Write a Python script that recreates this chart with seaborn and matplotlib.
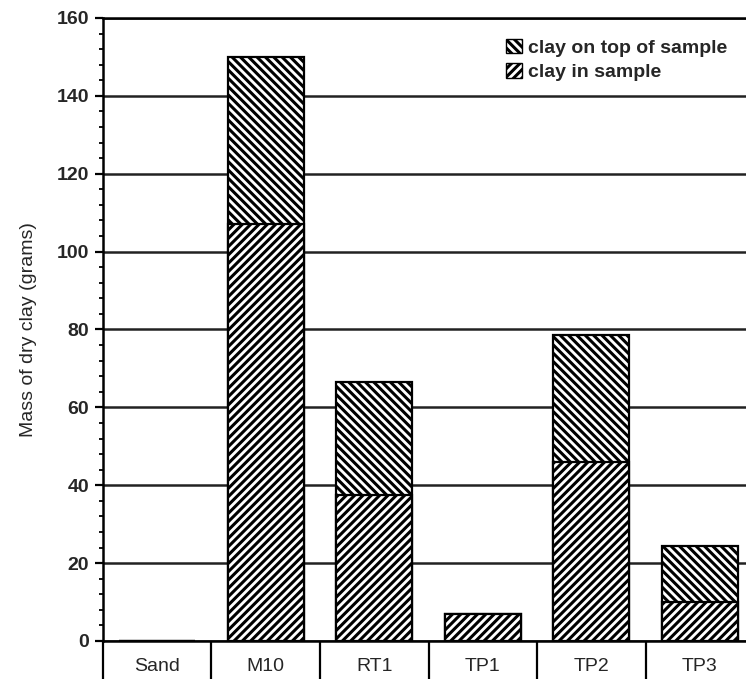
import numpy as np
import pandas as pd
import matplotlib
matplotlib.use("Agg")
import matplotlib.pyplot as plt
import seaborn as sns
from matplotlib.patches import Patch
from matplotlib.ticker import MultipleLocator, FixedLocator

# --- data ---
samples = ["Sand", "M10", "RT1", "TP1", "TP2", "TP3"]
clay_in_sample = [0, 107, 37.5, 7, 46, 10]
clay_on_top = [0, 43, 29, 0, 32.5, 14.5]

df = pd.DataFrame({"sample": samples,
                   "in_sample": clay_in_sample,
                   "on_top": clay_on_top})
df["total"] = df["in_sample"] + df["on_top"]

sns.set_theme(style="white")
plt.rcParams["font.family"] = ["Liberation Sans", "DejaVu Sans"]
plt.rcParams["hatch.linewidth"] = 2.2

fig = plt.figure(figsize=(7.46, 6.79), dpi=100)
ax = fig.add_axes([0.138, 0.056, 0.873, 0.9175])

# stacked bars: total first (top hatch), then the in-sample part over it
sns.barplot(data=df, x="sample", y="total", color="white", edgecolor="black",
            linewidth=1.6, hatch="\\\\\\\\", width=0.7, ax=ax)
sns.barplot(data=df, x="sample", y="in_sample", color="white", edgecolor="black",
            linewidth=1.6, hatch="////", width=0.7, ax=ax)
for p in ax.patches:
    p.set_facecolor("white")

ax.set_xlim(-0.5, len(samples) - 0.5)
ax.set_ylim(0, 160)
ax.yaxis.set_major_locator(MultipleLocator(20))
ax.yaxis.set_minor_locator(MultipleLocator(4))
ax.grid(axis="y", which="major", color="#222222", linewidth=1.8)
ax.set_axisbelow(True)

for side in ["top", "left", "right", "bottom"]:
    ax.spines[side].set_color("black")
    ax.spines[side].set_linewidth(1.8)

# category separators below the axis
ax.xaxis.set_minor_locator(FixedLocator(np.arange(-0.5, len(samples), 1.0)))
ax.tick_params(axis="x", which="minor", bottom=True, direction="out",
               length=30, width=1.6, color="black")
ax.tick_params(axis="x", which="major", bottom=False, pad=6, labelsize=14)
ax.tick_params(axis="y", which="major", left=True, direction="out",
               length=6, width=1.6, color="black", labelsize=14, pad=4)
ax.tick_params(axis="y", which="minor", left=True, direction="out",
               length=3, width=1.3, color="black")
for lab in ax.get_yticklabels():
    lab.set_fontweight("bold")

ax.set_xlabel("")
ax.set_ylabel("Mass of dry clay (grams)", fontsize=14, labelpad=14)

handles = [Patch(facecolor="white", edgecolor="black", hatch="\\\\\\\\",
                 label="clay on top of sample"),
           Patch(facecolor="white", edgecolor="black", hatch="////",
                 label="clay in sample")]
ax.legend(handles=handles, loc="upper right", bbox_to_anchor=(0.985, 0.995),
          frameon=False, prop={"size": 14, "weight": "bold"},
          handlelength=0.8, handleheight=0.8,
          handletextpad=0.3, labelspacing=0.3)

fig.savefig("out.png", dpi=100)
